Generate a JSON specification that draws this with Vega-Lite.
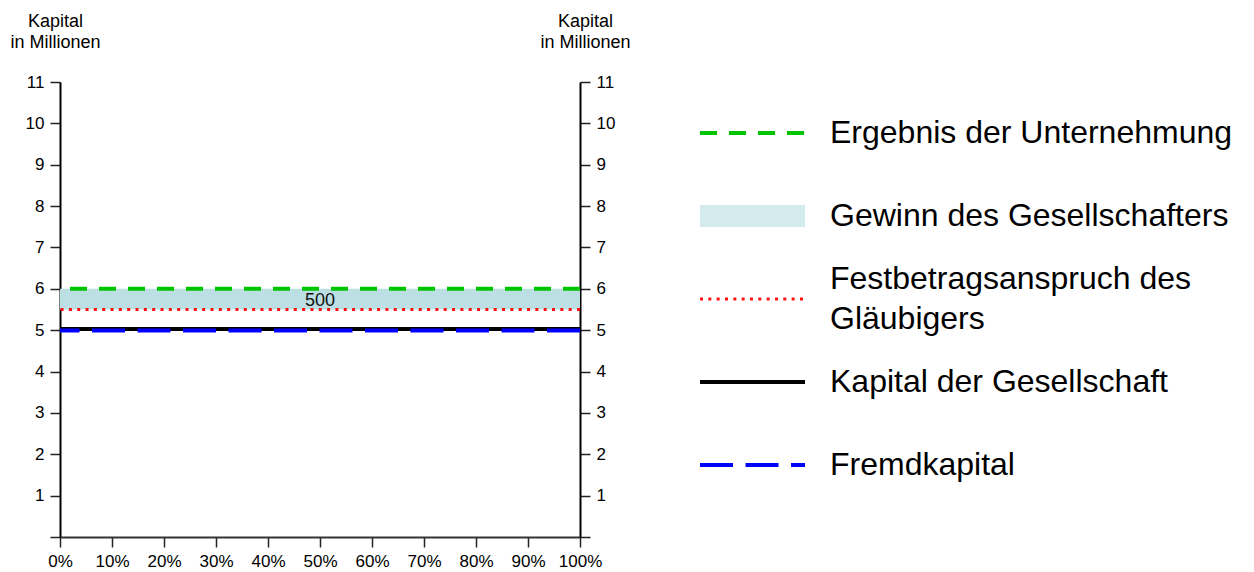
{
  "$schema": "https://vega.github.io/schema/vega-lite/v6.json",
  "width": 520,
  "height": 455,
  "autosize": {"type": "none"},
  "padding": {"left": 60, "top": 82, "right": 674, "bottom": 35},
  "background": "white",
  "config": {
    "view": {"stroke": null},
    "font": "Liberation Sans",
    "axis": {
      "grid": false,
      "labelFont": "Liberation Sans",
      "labelFontSize": 17,
      "labelColor": "#000000",
      "labelOverlap": false,
      "labelFlush": false,
      "tickColor": "#222222",
      "tickWidth": 1.5,
      "tickSize": 10,
      "titleFont": "Liberation Sans",
      "titleFontSize": 18,
      "titleFontWeight": "normal",
      "titleColor": "#000000"
    }
  },
  "datasets": {
    "linien": [
      {"reihe": "Ergebnis der Unternehmung", "kapital": 6},
      {"reihe": "Festbetragsanspruch des Gläubigers", "kapital": 5.5},
      {"reihe": "Kapital der Gesellschaft", "kapital": 5.03},
      {"reihe": "Fremdkapital", "kapital": 4.99}
    ],
    "gewinn": [
      {"reihe": "Gewinn des Gesellschafters", "von": 5.5, "bis": 6, "betrag": 500}
    ],
    "legende": [
      {"reihe": "Ergebnis der Unternehmung", "text": "Ergebnis der Unternehmung"},
      {"reihe": "Gewinn des Gesellschafters", "text": "Gewinn des Gesellschafters"},
      {"reihe": "Festbetragsanspruch des Gläubigers", "text": "Festbetragsanspruch des\nGläubigers"},
      {"reihe": "Kapital der Gesellschaft", "text": "Kapital der Gesellschaft"},
      {"reihe": "Fremdkapital", "text": "Fremdkapital"}
    ]
  },
  "layer": [
    {
      "layer": [
        {
          "data": {"name": "gewinn"},
          "mark": {"type": "rect", "fill": "#bbdfe3"},
          "encoding": {
            "x": {
              "datum": 0, "type": "quantitative",
              "scale": {"domain": [0, 1]},
              "axis": {
                "values": [0, 0.1, 0.2, 0.3, 0.4, 0.5, 0.6, 0.7, 0.8, 0.9, 1],
                "format": ".0%", "title": null, "labelPadding": 6,
                "domainColor": "#333333", "domainWidth": 2
              }
            },
            "x2": {"datum": 1},
            "y": {
              "field": "von", "type": "quantitative",
              "scale": {"domain": [0, 11]},
              "axis": {
                "orient": "left",
                "values": [0, 1, 2, 3, 4, 5, 6, 7, 8, 9, 10, 11],
                "labelExpr": "datum.value == 0 ? '' : datum.label",
                "labelPadding": 6, "domainColor": "#000000", "domainWidth": 2,
                "title": ["Kapital", "in Millionen"],
                "titleAngle": 0, "titleAlign": "center", "titleBaseline": "alphabetic",
                "titleX": -5, "titleY": -56, "titleLineHeight": 21
              }
            },
            "y2": {"field": "bis"}
          }
        },
        {
          "data": {"name": "linien"},
          "mark": {"type": "rule"},
          "encoding": {
            "y": {
              "field": "kapital", "type": "quantitative",
              "scale": {"domain": [0, 11]},
              "axis": {
                "orient": "left",
                "values": [0, 1, 2, 3, 4, 5, 6, 7, 8, 9, 10, 11],
                "labelExpr": "datum.value == 0 ? '' : datum.label",
                "labelPadding": 6, "domainColor": "#000000", "domainWidth": 2,
                "title": ["Kapital", "in Millionen"],
                "titleAngle": 0, "titleAlign": "center", "titleBaseline": "alphabetic",
                "titleX": -5, "titleY": -56, "titleLineHeight": 21
              }
            },
            "color": {
              "field": "reihe", "type": "nominal", "legend": null,
              "scale": {
                "domain": ["Ergebnis der Unternehmung", "Gewinn des Gesellschafters", "Festbetragsanspruch des Gläubigers", "Kapital der Gesellschaft", "Fremdkapital"],
                "range": ["#00c400", "#d3ebec", "#ff1010", "#000000", "#0000ff"]
              }
            },
            "strokeDash": {
              "field": "reihe", "type": "nominal", "legend": null,
              "scale": {
                "domain": ["Ergebnis der Unternehmung", "Gewinn des Gesellschafters", "Festbetragsanspruch des Gläubigers", "Kapital der Gesellschaft", "Fremdkapital"],
                "range": [[17, 12], [1, 0], [3, 5.33], [1, 0], [33, 12.5]]
              }
            },
            "strokeWidth": {
              "field": "reihe", "type": "nominal", "legend": null,
              "scale": {
                "type": "ordinal",
                "domain": ["Ergebnis der Unternehmung", "Gewinn des Gesellschafters", "Festbetragsanspruch des Gläubigers", "Kapital der Gesellschaft", "Fremdkapital"],
                "range": [4, 22, 3, 4, 4]
              }
            }
          }
        }
      ]
    },
    {
      "data": {"name": "gewinn"},
      "mark": {"type": "text", "fontSize": 18, "color": "#111111", "align": "center", "baseline": "top", "dy": 3},
      "encoding": {
        "x": {
          "datum": 0.5, "type": "quantitative",
          "scale": {"domain": [0, 1]},
          "axis": null
        },
        "y": {
          "field": "bis", "type": "quantitative",
          "scale": {"domain": [0, 11]},
          "axis": {
            "orient": "right",
            "values": [0, 1, 2, 3, 4, 5, 6, 7, 8, 9, 10, 11],
            "labelExpr": "datum.value == 0 ? '' : datum.label",
            "labelPadding": 6, "domainColor": "#000000", "domainWidth": 2,
            "title": ["Kapital", "in Millionen"],
            "titleAngle": 0, "titleAlign": "center", "titleBaseline": "alphabetic",
            "titleX": 5, "titleY": -56, "titleLineHeight": 21
          }
        },
        "text": {"field": "betrag", "type": "quantitative"}
      }
    },
    {
      "data": {"name": "legende"},
      "encoding": {
        "y": {
          "field": "reihe", "type": "nominal", "axis": null,
          "scale": {
            "type": "point", "padding": 0, "range": [51, 383],
            "domain": ["Ergebnis der Unternehmung", "Gewinn des Gesellschafters", "Festbetragsanspruch des Gläubigers", "Kapital der Gesellschaft", "Fremdkapital"]
          }
        }
      },
      "layer": [
        {
          "mark": {"type": "rule"},
          "encoding": {
            "x": {"datum": 0, "type": "quantitative", "axis": null, "scale": {"domain": [0, 1], "range": [640, 745]}},
            "x2": {"datum": 1},
            "color": {
              "field": "reihe", "type": "nominal", "legend": null,
              "scale": {
                "domain": ["Ergebnis der Unternehmung", "Gewinn des Gesellschafters", "Festbetragsanspruch des Gläubigers", "Kapital der Gesellschaft", "Fremdkapital"],
                "range": ["#00c400", "#d3ebec", "#ff1010", "#000000", "#0000ff"]
              }
            },
            "strokeDash": {
              "field": "reihe", "type": "nominal", "legend": null,
              "scale": {
                "domain": ["Ergebnis der Unternehmung", "Gewinn des Gesellschafters", "Festbetragsanspruch des Gläubigers", "Kapital der Gesellschaft", "Fremdkapital"],
                "range": [[17, 12], [1, 0], [3, 5.33], [1, 0], [33, 12.5]]
              }
            },
            "strokeWidth": {
              "field": "reihe", "type": "nominal", "legend": null,
              "scale": {
                "type": "ordinal",
                "domain": ["Ergebnis der Unternehmung", "Gewinn des Gesellschafters", "Festbetragsanspruch des Gläubigers", "Kapital der Gesellschaft", "Fremdkapital"],
                "range": [4, 22, 3, 4, 4]
              }
            }
          }
        },
        {
          "transform": [{"filter": "datum.reihe != 'Festbetragsanspruch des Gläubigers'"}],
          "mark": {"type": "text", "align": "left", "baseline": "middle", "dx": 25, "fontSize": 32, "color": "#000000", "font": "Liberation Sans"},
          "encoding": {
            "x": {"datum": 1, "type": "quantitative"},
            "text": {"field": "text", "type": "nominal"}
          }
        },
        {
          "transform": [{"filter": "datum.reihe == 'Festbetragsanspruch des Gläubigers'"}],
          "mark": {"type": "text", "align": "left", "baseline": "middle", "dx": 25, "dy": -20, "lineBreak": "\n", "lineHeight": 40, "fontSize": 32, "color": "#000000", "font": "Liberation Sans"},
          "encoding": {
            "x": {"datum": 1, "type": "quantitative"},
            "text": {"field": "text", "type": "nominal"}
          }
        }
      ]
    }
  ],
  "resolve": {"scale": {"x": "independent", "y": "independent"}}
}
